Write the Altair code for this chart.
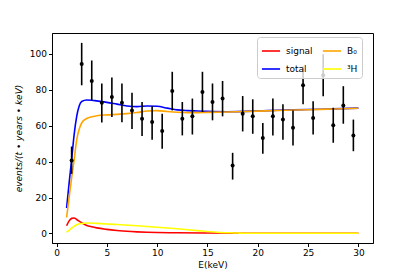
import altair as alt
import pandas as pd

# Data points (bin centres, values, error bar bounds)
pt_x = [1.5, 2.5, 3.5, 4.5, 5.5, 6.5, 7.5, 8.5, 9.5, 10.5, 11.5, 12.5, 13.5, 14.5, 15.5,
        16.5, 17.5, 18.5, 19.5, 20.5, 21.5, 22.5, 23.5, 24.5, 25.5, 26.5, 27.5, 28.5, 29.5]
pt_y = [40.6, 94.4, 84.9, 72.8, 76.0, 72.8, 68.4, 63.9, 62.0, 57.0, 79.3, 63.9, 65.2, 78.8, 73.2,
        75.1, 37.8, 66.7, 65.2, 53.1, 65.2, 63.5, 58.9, 82.5, 64.3, 88.1, 60.2, 71.3, 54.6]
pt_lo = [33.2, 82.5, 74.1, 61.8, 64.8, 61.9, 58.1, 54.2, 52.2, 47.1, 68.5, 54.6, 55.1, 67.6, 63.0,
         65.2, 30.0, 56.8, 55.5, 44.4, 54.6, 52.2, 49.0, 71.9, 55.1, 76.4, 50.5, 61.1, 45.8]
pt_hi = [48.4, 106.1, 96.3, 83.5, 86.8, 83.5, 78.4, 73.2, 70.8, 66.7, 90.0, 73.2, 75.1, 90.0, 83.5,
         84.9, 44.9, 76.5, 74.7, 61.5, 75.1, 71.9, 68.5, 93.1, 73.6, 99.8, 70.0, 82.0, 63.4]

# Curves
total_x = [1, 1.25, 1.5, 1.75, 2, 2.25, 2.5, 3, 3.5, 4, 5, 6, 7, 8, 9, 10, 11, 12, 13, 14, 15,
           17, 20, 22, 25, 27, 30]
total_y = [14.2, 28, 41, 55, 65, 71, 73.5, 74.3, 74.2, 73.8, 73.0, 72.0, 71.0, 70.6, 71.0, 70.8,
           69.8, 68.8, 68.4, 68.2, 68.0, 67.8, 68.2, 68.6, 69.0, 69.3, 69.8]
b0_x = total_x
b0_y = [8.9, 20, 31, 41, 52, 58, 61.5, 64.0, 65.0, 65.5, 66.0, 66.3, 66.7, 67.3, 68.2, 68.4,
        67.9, 67.5, 67.3, 67.3, 67.4, 67.6, 68.1, 68.5, 68.9, 69.2, 69.7]
sig_x = [1, 1.25, 1.5, 1.75, 2, 2.5, 3, 3.5, 4, 5, 6, 7, 8, 9, 10, 12, 15, 20, 25, 30]
sig_y = [4.3, 7.0, 8.4, 8.6, 7.8, 6.0, 4.5, 3.7, 3.1, 2.3, 1.7, 1.2, 0.9, 0.7, 0.55, 0.4, 0.25,
         0.15, 0.1, 0.1]
h3_x = [1, 1.25, 1.5, 1.75, 2, 2.5, 3, 4, 5, 6, 8, 10, 12, 14, 16, 18, 18.6, 20, 25, 30]
h3_y = [0.6, 1.8, 3.0, 4.0, 4.9, 5.6, 5.8, 5.6, 5.3, 5.0, 4.3, 3.5, 2.6, 1.6, 0.7, 0.25, 0.1,
        0.1, 0.1, 0.1]

# Legend is filled column by column: column 1 = signal, total; column 2 = B0, 3H
names = ["signal", "total", "B₀", "³H"]
colors = ["#ff0000", "#0000ff", "#ffa500", "#ffff00"]

series = {"signal": (sig_x, sig_y), "total": (total_x, total_y),
          "B₀": (b0_x, b0_y), "³H": (h3_x, h3_y)}
rows = []
for name in names:
    xs, ys = series[name]
    for a, b in zip(xs, ys):
        rows.append({"E": a, "v": b, "s": name})
curves = pd.DataFrame(rows)
pts = pd.DataFrame({"E": pt_x, "v": pt_y, "lo": pt_lo, "hi": pt_hi})

xscale = alt.Scale(domain=[-0.45, 31.45], nice=False, zero=False)
yscale = alt.Scale(domain=[-5.3, 111.6], nice=False, zero=False)

xaxis = alt.Axis(title="E(keV)", values=[0, 5, 10, 15, 20, 25, 30], grid=False,
                 tickSize=3.5, tickColor="black", domainColor="black", labelPadding=2,
                 titlePadding=3, labelFlush=False)
yaxis = alt.Axis(title="events/(t • years • keV)", values=[0, 20, 40, 60, 80, 100], grid=False,
                 tickSize=3.5, tickColor="black", domainColor="black", labelPadding=2,
                 titlePadding=6, titleFontStyle="italic", titleFontWeight="normal")

color = alt.Color("s:N", scale=alt.Scale(domain=names, range=colors),
                  legend=alt.Legend(title=None, orient="none", legendX=205, legendY=4,
                                    columns=2, symbolType="stroke", symbolSize=330,
                                    symbolStrokeWidth=1.6, labelFontSize=9,
                                    labelFont="DejaVu Sans", fillColor="rgba(255,255,255,0.8)",
                                    strokeColor="#cccccc", padding=4, cornerRadius=3,
                                    columnPadding=6, rowPadding=3, labelOffset=5))

base = alt.Chart(curves)
layers = []
for name in ["signal", "total", "B₀", "³H"]:
    layers.append(
        base.transform_filter(alt.datum.s == name).mark_line(strokeWidth=1.6, interpolate="monotone").encode(
            x=alt.X("E:Q", scale=xscale, axis=xaxis),
            y=alt.Y("v:Q", scale=yscale, axis=yaxis),
            color=color,
        )
    )

bars = alt.Chart(pts).mark_rule(color="black", strokeWidth=1.6).encode(
    x=alt.X("E:Q", scale=xscale), y=alt.Y("lo:Q", scale=yscale), y2="hi:Q")
dots = alt.Chart(pts).mark_circle(color="black", size=16, opacity=1).encode(
    x=alt.X("E:Q", scale=xscale), y=alt.Y("v:Q", scale=yscale))

chart = alt.layer(*layers, bars, dots).properties(
    width=321, height=210,
    autosize=alt.AutoSizeParams(type="none"),
    padding={"left": 44, "top": 25, "right": 30, "bottom": 30},
).configure_view(stroke="black", strokeWidth=1).configure_axis(
    labelFont="DejaVu Sans", titleFont="DejaVu Sans", labelFontSize=9, titleFontSize=9,
    labelColor="black", titleColor="black", titleFontWeight="normal"
)

chart.save("out.html", embed_options={"renderer": "svg", "actions": False})
